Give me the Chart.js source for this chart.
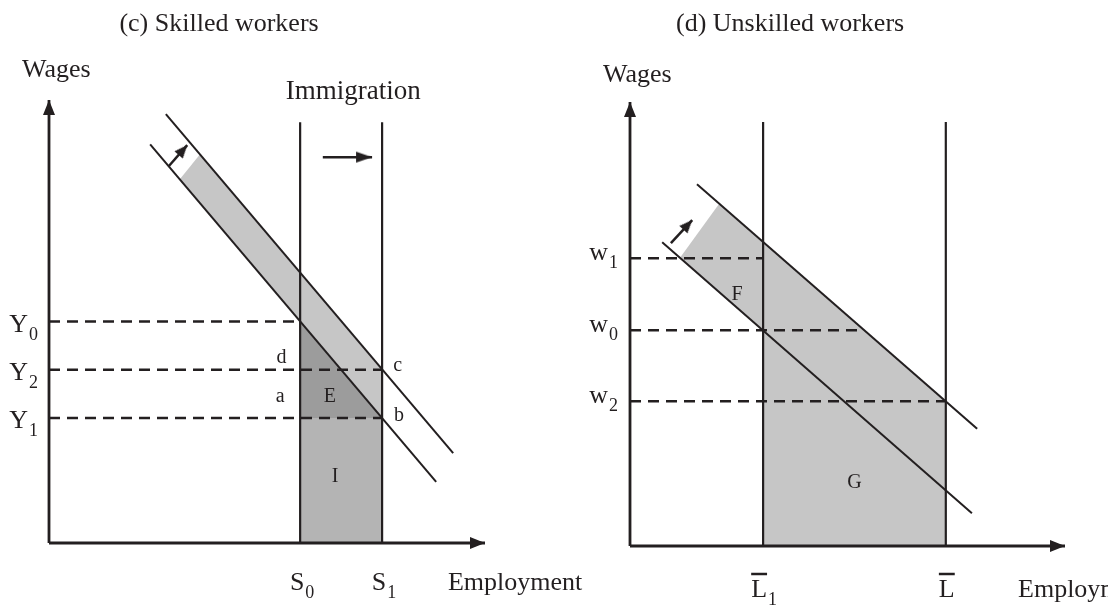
<!DOCTYPE html>
<html><head><meta charset="utf-8">
<script src="https://cdn.jsdelivr.net/npm/chart.js@4.4.1/dist/chart.umd.min.js"></script>
<style>
html,body{margin:0;padding:0;background:#fff;}
#wrap{position:relative;width:1108px;height:606px;overflow:hidden;background:#fff;}
.panel{position:absolute;top:0;left:0;width:1108px;height:606px;}
</style></head><body>
<div id="wrap">
<div class="panel" id="left"><canvas id="c1" width="1108" height="606"></canvas></div>
<div class="panel" id="right"><canvas id="c2" width="1108" height="606"></canvas></div>
</div>
<script>
// ================= DATA =================
// ---- (c) Skilled workers ----
const skilledTitle = '(c) Skilled workers';
const skilledWageTicks = [50.0, 39.1, 28.2];            // Y0, Y2, Y1
const skilledWageLabels = [['Y','0'], ['Y','2'], ['Y','1']];
const skilledWageDashEnds = [57.6, 76.4, 76.4];
const skilledSupply = [57.6, 76.4];                      // S0, S1
const skilledSupplyLabels = [['S','0'], ['S','1']];
const skilledSupplyTop = 95.0;
const skilledDemandOld = [[23.2, 90.0], [88.8, 13.8]];
const skilledDemandNew = [[26.8, 96.8], [92.7, 20.3]];
const skilledShadeEdge = [[30.0, 82.1], [34.6, 87.7]];
const skilledShiftArrow = [[27.5, 85.1], [31.7, 89.8]];
const skilledImmigrationArrow = [[62.8, 87.1], [74.1, 87.1]];
const skilledNotes = [
  {text: 'Immigration', x: 69.8, y: 100.2, size: 27},
  {text: 'd', x: 53.3, y: 40.6}, {text: 'a', x: 53.0, y: 31.8},
  {text: 'E', x: 64.4, y: 31.8}, {text: 'c', x: 80.0, y: 38.8},
  {text: 'b', x: 80.3, y: 27.5}, {text: 'I', x: 65.6, y: 13.8}
];

// ---- (d) Unskilled workers ----
const unskilledTitle = '(d) Unskilled workers';
const unskilledWageTicks = [64.8, 48.6, 32.6];          // w1, w0, w2
const unskilledWageLabels = [['w','1'], ['w','0'], ['w','2']];
const unskilledWageDashEnds = [30.6, 52.9, 72.6];
const unskilledSupply = [30.6, 72.6];                    // L̄1, L̄
const unskilledSupplyLabels = [['L','1'], ['L','']];
const unskilledSupplyTop = 95.5;
const unskilledDemandOld = [[7.4, 68.4], [78.6, 7.4]];
const unskilledDemandNew = [[15.4, 81.5], [79.8, 26.4]];
const unskilledShadeEdge = [[11.5, 64.9], [20.5, 77.1]];
const unskilledDemandNewAtL1 = 68.5;
const unskilledDemandOldAtL1 = 48.5;
const unskilledShiftArrow = [[9.4, 68.2], [14.3, 73.4]];
const unskilledNotes = [
  {text: 'F', x: 24.6, y: 55.4}, {text: 'G', x: 51.6, y: 13.1}
];

const axisLabelY = 'Wages';
const axisLabelX = 'Employment';

// ================= STYLE =================
const INK = '#231f20';
const LIGHT = '#c6c6c6';
const DARK = '#9c9c9c';
const MID = '#b4b4b4';
const FONT = '"Liberation Serif", "Times New Roman", serif';

function makeHead(len, width) {
  const c = document.createElement('canvas');
  c.width = Math.ceil(width) + 2; c.height = Math.ceil(len * 2) + 2;
  const g = c.getContext('2d');
  const cx = c.width / 2, cy = c.height / 2;
  g.fillStyle = INK; g.beginPath();
  g.moveTo(cx, cy); g.lineTo(cx - width / 2, cy + len); g.lineTo(cx + width / 2, cy + len);
  g.closePath(); g.fill();
  return c;
}
const AXIS_HEAD = makeHead(15, 12);
const SMALL_HEAD = makeHead(13, 11);
const LONG_HEAD = makeHead(16, 11);

const pts = arr => arr.map(p => ({x: p[0], y: p[1]}));

function line(points, extra) {
  return Object.assign({
    data: pts(points), borderColor: INK, borderWidth: 2, pointRadius: 0,
    fill: false, clip: false, tension: 0
  }, extra || {});
}
function arrow(points, head, width, rotation) {
  return line(points, {
    borderWidth: width,
    pointRadius: c => c.dataIndex === points.length - 1 ? 5 : 0,
    pointStyle: c => c.dataIndex === points.length - 1 ? head : 'circle',
    pointRotation: rotation !== undefined ? rotation : (c => {
      const xs = c.chart.scales.x, ys = c.chart.scales.y;
      const a = points[0], b = points[points.length - 1];
      const dx = xs.getPixelForValue(b[0]) - xs.getPixelForValue(a[0]);
      const dy = ys.getPixelForValue(b[1]) - ys.getPixelForValue(a[1]);
      return Math.atan2(dx, -dy) * 180 / Math.PI;
    })
  });
}
function area(points, color, fill) {
  return line(points, {borderWidth: 0, borderColor: 'transparent', backgroundColor: color, fill: fill});
}
function dashed(y, xEnd) {
  return line([[0, y], [xEnd, y]], {borderWidth: 2.5, borderDash: [11, 7]});
}
function vertical(x, top) { return line([[x, 0], [x, top]], {borderWidth: 2.2}); }

// text plugin
const textPlugin = {
  id: 'diagramText',
  afterDatasetsDraw(chart, args, opts) {
    const ctx = chart.ctx, xs = chart.scales.x, ys = chart.scales.y;
    ctx.save();
    ctx.fillStyle = INK; ctx.strokeStyle = INK; ctx.textBaseline = 'alphabetic';
    for (const t of opts.items) {
      const px = xs.getPixelForValue(t.x) + (t.dx || 0);
      const py = ys.getPixelForValue(t.y) + (t.dy || 0);
      const size = t.size || 20;
      ctx.font = size + 'px ' + FONT;
      const wMain = ctx.measureText(t.text).width;
      let wSub = 0;
      const subSize = t.subSize || 18;
      if (t.sub) { ctx.font = subSize + 'px ' + FONT; wSub = ctx.measureText(t.sub).width + 1; }
      const total = wMain + wSub;
      let start = px;
      const align = t.align || 'center';
      if (align === 'center') start = px - total / 2;
      else if (align === 'right') start = px - total;
      ctx.textAlign = 'left';
      ctx.font = size + 'px ' + FONT;
      ctx.fillText(t.text, start, py);
      if (t.sub) {
        ctx.font = subSize + 'px ' + FONT;
        ctx.fillText(t.sub, start + wMain + 1, py + 8);
      }
      if (t.bar) {
        ctx.lineWidth = 2.5; ctx.beginPath();
        ctx.moveTo(start, py - 23); ctx.lineTo(start + wMain, py - 23); ctx.stroke();
      }
    }
    ctx.restore();
  }
};

function baseOptions(padding, items) {
  return {
    responsive: false, animation: false, events: [],
    layout: {padding: padding},
    scales: {
      x: {type: 'linear', min: 0, max: 100, display: false},
      y: {type: 'linear', min: 0, max: 100, display: false}
    },
    plugins: {legend: {display: false}, tooltip: {enabled: false}, diagramText: {items: items}}
  };
}

// ================= LEFT PANEL =================
(function () {
  const ds = [];
  ds.push(arrow([[0, 0], [100, 0]], AXIS_HEAD, 2.8, 90));
  ds.push(arrow([[0, 0], [0, 100]], AXIS_HEAD, 2.8, 0));
  ds.push(line(skilledDemandNew));
  ds.push(line(skilledDemandOld));
  skilledSupply.forEach(s => ds.push(vertical(s, skilledSupplyTop)));
  skilledWageTicks.forEach((v, i) => ds.push(dashed(v, skilledWageDashEnds[i])));
  ds.push(arrow(skilledShiftArrow, SMALL_HEAD, 2.5));
  ds.push(arrow(skilledImmigrationArrow, LONG_HEAD, 2.5, 90));
  // light band between demand curves up to S1
  const yNewAtS1 = skilledWageTicks[1];
  ds.push(area([skilledShadeEdge[0], skilledShadeEdge[1], [skilledSupply[1], yNewAtS1]], LIGHT, '+1'));
  ds.push(area([skilledShadeEdge[0], [skilledSupply[1], skilledWageTicks[2]]], LIGHT, false));
  // E triangle
  ds.push(area([[skilledSupply[0], skilledWageTicks[0]], [skilledSupply[1], skilledWageTicks[2]]], DARK, {value: skilledWageTicks[2]}));
  // I rectangle
  ds.push(area([[skilledSupply[0], skilledWageTicks[2]], [skilledSupply[1], skilledWageTicks[2]]], MID, 'origin'));

  const items = [
    {text: skilledTitle, x: 39.0, y: 115.6, size: 26},
    {text: axisLabelY, x: 1.7, y: 105.2, size: 26},
    {text: axisLabelX, x: 91.5, y: 0, dy: 47, size: 26, align: 'left'}
  ];
  skilledNotes.forEach(n => items.push(Object.assign({size: 20}, n)));
  skilledWageTicks.forEach((v, i) => items.push({text: skilledWageLabels[i][0], sub: skilledWageLabels[i][1], x: 0, y: v, dx: -11, dy: 10, size: 26, align: 'right'}));
  skilledSupply.forEach((s, i) => items.push({text: skilledSupplyLabels[i][0], sub: skilledSupplyLabels[i][1], x: s, y: 0, dx: 2, dy: 47, size: 26}));

  new Chart(document.getElementById('c1'), {
    type: 'line', data: {datasets: ds},
    options: baseOptions({left: 49, right: 623, top: 100, bottom: 63}, items),
    plugins: [textPlugin]
  });
})();

// ================= RIGHT PANEL =================
(function () {
  const ds = [];
  ds.push(arrow([[0, 0], [100, 0]], AXIS_HEAD, 2.8, 90));
  ds.push(arrow([[0, 0], [0, 100]], AXIS_HEAD, 2.8, 0));
  ds.push(line(unskilledDemandNew));
  ds.push(line(unskilledDemandOld));
  unskilledSupply.forEach(s => ds.push(vertical(s, unskilledSupplyTop)));
  unskilledWageTicks.forEach((v, i) => ds.push(dashed(v, unskilledWageDashEnds[i])));
  ds.push(arrow(unskilledShiftArrow, SMALL_HEAD, 2.5));
  // F: between curves left of L̄1
  ds.push(area([unskilledShadeEdge[0], unskilledShadeEdge[1], [unskilledSupply[0], unskilledDemandNewAtL1]], LIGHT, '+1'));
  ds.push(area([unskilledShadeEdge[0], [unskilledSupply[0], unskilledDemandOldAtL1]], LIGHT, false));
  // G: under new demand between L̄1 and L̄
  ds.push(area([[unskilledSupply[0], unskilledDemandNewAtL1], [unskilledSupply[1], unskilledWageTicks[2]]], LIGHT, 'origin'));

  const items = [
    {text: unskilledTitle, x: 36.8, y: 116.0, size: 26},
    {text: axisLabelY, x: 1.7, y: 104.5, size: 26},
    {text: axisLabelX, x: 89.2, y: 0, dy: 51, size: 26, align: 'left'}
  ];
  unskilledNotes.forEach(n => items.push(Object.assign({size: 20}, n)));
  unskilledWageTicks.forEach((v, i) => items.push({text: unskilledWageLabels[i][0], sub: unskilledWageLabels[i][1], x: 0, y: v, dx: -12, dy: 2, size: 26, align: 'right'}));
  unskilledSupply.forEach((s, i) => items.push({text: unskilledSupplyLabels[i][0], sub: unskilledSupplyLabels[i][1], bar: true, x: s, y: 0, dx: 1, dy: 51, size: 26}));

  new Chart(document.getElementById('c2'), {
    type: 'line', data: {datasets: ds},
    options: baseOptions({left: 630, right: 43, top: 102, bottom: 60}, items),
    plugins: [textPlugin]
  });
})();
</script>
</body></html>
